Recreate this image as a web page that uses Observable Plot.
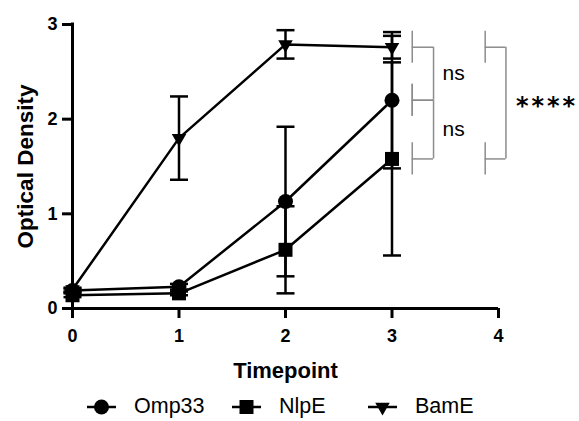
<!DOCTYPE html>
<html>
<head>
<meta charset="utf-8">
<script src="https://cdn.jsdelivr.net/npm/d3@7"></script>
<script src="https://cdn.jsdelivr.net/npm/@observablehq/plot@0.6"></script>
<style>
  html, body { margin: 0; padding: 0; background: #fff; }
  #wrap { width: 579px; height: 421px; position: relative; overflow: hidden; }
  .stars text { letter-spacing: 3px; }
  #legend { position: relative; height: 29px; width: 579px; font-family: "Liberation Sans", Arial, sans-serif; font-size: 21.5px; color: #000; }
  .item { position: absolute; top: 0; height: 29px; display: flex; align-items: center; }
  .item span { margin-left: 18px; }
</style>
</head>
<body>
<div id="wrap"></div>
<script>
// ---- data ----
const timepoints = [0, 1, 2, 3];
const seriesNames = ["Omp33", "NlpE", "BamE"];
const omp33Mean = [0.19, 0.23, 1.13, 2.20];
const omp33Err  = [0.02, 0.03, 0.79, 0.72];
const nlpeMean  = [0.14, 0.16, 0.62, 1.58];
const nlpeErr   = [0.02, 0.02, 0.46, 1.02];
const bameMean  = [0.20, 1.80, 2.79, 2.76];
const bameErr   = [0.02, 0.44, 0.15, 0.12];
const xTicks = [0, 1, 2, 3, 4];
const yTicks = [0, 1, 2, 3];
// comparisons at the last timepoint
const compFrom  = ["BamE", "Omp33", "BamE"];
const compTo    = ["Omp33", "NlpE", "NlpE"];
const compLabel = ["ns", "ns", "****"];
const compLevel = [0, 0, 1];

// ---- build tables ----
const means = {Omp33: omp33Mean, NlpE: nlpeMean, BamE: bameMean};
const errs = {Omp33: omp33Err, NlpE: nlpeErr, BamE: bameErr};
const symbols = {Omp33: "circle", NlpE: "square", BamE: "triangle"};
const rotations = {Omp33: 0, NlpE: 0, BamE: 180};
const radii = {Omp33: 7.5, NlpE: 7.9, BamE: 5.4};
const data = seriesNames.flatMap(s => timepoints.map((t, i) => ({
  series: s, t, y: means[s][i], lo: means[s][i] - errs[s][i], hi: means[s][i] + errs[s][i]
})));
const last = timepoints.length - 1;
const bracketX = [[3.19, 3.39], [3.875, 4.07]];
const armH = 0.17;
const comps = compFrom.map((f, i) => ({
  y1: means[f][last], y2: means[compTo[i]][last], label: compLabel[i],
  xa: bracketX[compLevel[i]][0], xb: bracketX[compLevel[i]][1]
}));
const arms = comps.flatMap(c => [{xa: c.xa, xb: c.xb, y: c.y1}, {xa: c.xa, xb: c.xb, y: c.y2}]);

const capSymbol = {draw(ctx, size) { const w = Math.sqrt(size / Math.PI); ctx.moveTo(-w, 0); ctx.lineTo(w, 0); }};
const gray = "#8c8c8c";
const sans = "'Liberation Sans', Arial, sans-serif";

const plot = Plot.plot({
  width: 579, height: 392,
  marginLeft: 72, marginRight: 81, marginTop: 24, marginBottom: 84,
  style: {fontFamily: sans, fontSize: "18px", fontWeight: "bold", background: "#fff", color: "#000"},
  x: {domain: [0, 4]},
  y: {domain: [0, 3]},
  marks: [
    Plot.axisX({ticks: xTicks, tickFormat: d => d, tickSize: 10, tickPadding: 11, strokeWidth: 3, label: null, fontSize: 18, fontWeight: "bold"}),
    Plot.axisY({ticks: yTicks, tickFormat: d => d, tickSize: 10, tickPadding: 5, strokeWidth: 3, label: null, fontSize: 18, fontWeight: "bold"}),
    Plot.ruleX([0], {y1: 0, y2: 3, stroke: "#000", strokeWidth: 3, strokeLinecap: "square"}),
    Plot.ruleY([0], {x1: 0, x2: 4, stroke: "#000", strokeWidth: 3}),
    // error bars
    Plot.ruleX(data, {x: "t", y1: "lo", y2: "hi", stroke: "#000", strokeWidth: 2.5}),
    Plot.dot(data, {x: "t", y: "hi", symbol: capSymbol, r: 9, stroke: "#000", strokeWidth: 2.5}),
    Plot.dot(data, {x: "t", y: "lo", symbol: capSymbol, r: 9, stroke: "#000", strokeWidth: 2.5}),
    // lines
    Plot.line(data, {x: "t", y: "y", z: "series", stroke: "#000", strokeWidth: 2.5}),
    // markers
    ...seriesNames.map(s => Plot.dot(data.filter(d => d.series === s), {x: "t", y: "y", symbol: symbols[s], r: radii[s], rotate: rotations[s], fill: "#000", stroke: "none"})),
    // significance brackets
    Plot.ruleY(arms, {x1: "xa", x2: "xb", y: "y", stroke: gray, strokeWidth: 1.5}),
    Plot.ruleX(arms, {x: "xa", y1: d => d.y - armH, y2: d => d.y + armH, stroke: gray, strokeWidth: 1.5}),
    Plot.ruleX(comps, {x: "xb", y1: "y1", y2: "y2", stroke: gray, strokeWidth: 1.5}),
    Plot.text(comps.filter(c => c.label === "ns"), {x: "xb", y: d => (d.y1 + d.y2) / 2, text: "label", dx: 9, textAnchor: "start", fontFamily: sans, fontWeight: "normal", fontSize: 21, fill: "#000"}),
    Plot.text(comps.filter(c => c.label !== "ns"), {x: "xb", y: d => (d.y1 + d.y2) / 2, text: "label", dx: 10, dy: 3, textAnchor: "start", fontFamily: "'DejaVu Sans', sans-serif", fontWeight: "bold", fontSize: 24, fill: "#000", className: "stars"}),
    // axis titles
    Plot.text(["Timepoint"], {frameAnchor: "bottom", text: d => d, dy: 62, textAnchor: "middle", lineAnchor: "middle", fontFamily: sans, fontWeight: "bold", fontSize: 22, fill: "#000"}),
    Plot.text(["Optical Density"], {frameAnchor: "left", text: d => d, dx: -47, rotate: -90, textAnchor: "middle", lineAnchor: "middle", fontFamily: sans, fontWeight: "bold", fontSize: 22.5, fill: "#000"})
  ]
});

const wrap = document.getElementById("wrap");
wrap.appendChild(plot);

// legend
const legend = document.createElement("div");
legend.id = "legend";
const lefts = {Omp33: 87, NlpE: 232, BamE: 368};
function swatch(s) {
  const svg = d3.create("svg").attr("width", 29).attr("height", 20);
  svg.append("line").attr("x1", 0).attr("x2", 29).attr("y1", 10).attr("y2", 10).attr("stroke", "#000").attr("stroke-width", 2.5);
  const sym = s === "Omp33" ? d3.symbolCircle : s === "NlpE" ? d3.symbolSquare : d3.symbolTriangle;
  const r = radii[s];
  svg.append("path").attr("d", d3.symbol(sym, Math.PI * r * r)())
    .attr("transform", `translate(14.5,10) rotate(${rotations[s]})`).attr("fill", "#000");
  return svg.node();
}
for (const s of seriesNames) {
  const item = document.createElement("div");
  item.className = "item";
  item.style.left = lefts[s] + "px";
  item.appendChild(swatch(s));
  const span = document.createElement("span");
  span.textContent = s;
  item.appendChild(span);
  legend.appendChild(item);
}
wrap.appendChild(legend);
</script>
</body>
</html>
